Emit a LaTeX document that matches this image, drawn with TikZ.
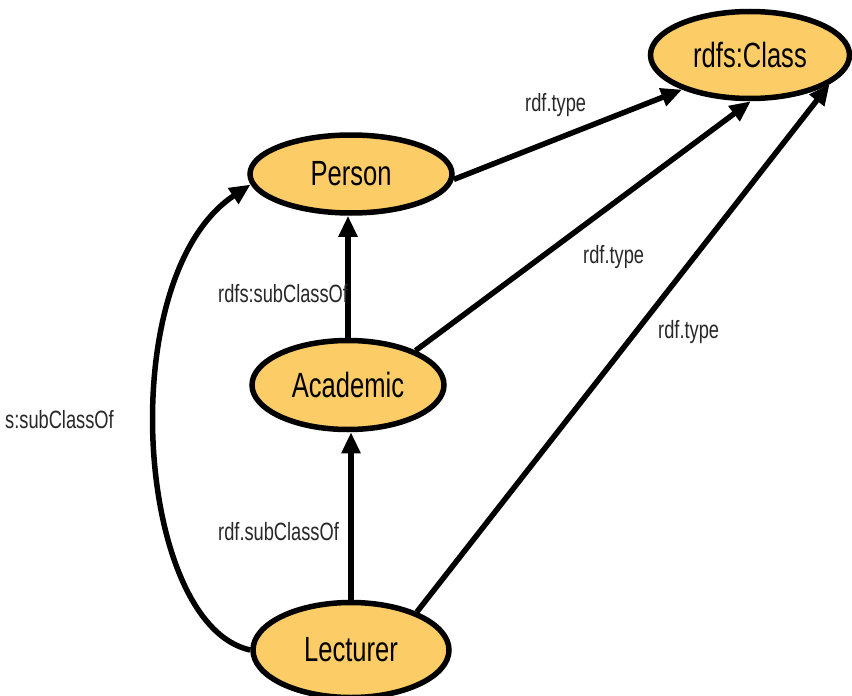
\documentclass[tikz,border=0pt]{standalone}
\usepackage{fontspec}
\setmainfont{Liberation Sans}
\newfontfamily\narrowfont{Liberation Sans}[FakeStretch=0.73]
\usetikzlibrary{shapes.geometric,arrows.meta}
\definecolor{nodefill}{RGB}{252,204,102}
\definecolor{labelgray}{RGB}{40,40,40}
\tikzset{
  cls/.style={ellipse, draw=black, line width=5.5pt, fill=nodefill, inner sep=0pt,
    font=\narrowfont\fontsize{35}{40}\selectfont},
  edge/.style={line width=5.5pt, -{Triangle[length=21pt,width=18pt]}},
  lbl/.style={inner sep=0pt, anchor=base west, text=labelgray,
    font=\narrowfont\fontsize{25}{30}\selectfont}
}
\begin{document}
\begin{tikzpicture}[x=1pt,y=-1pt]
\useasboundingbox[fill=white] (0,0) rectangle (852,696);
\node[cls, minimum width=199pt, minimum height=87pt] (rc) at (750,55) {rdfs:Class};
\node[cls, minimum width=202pt, minimum height=78pt] (per) at (351,174) {Person};
\node[cls, minimum width=192pt, minimum height=89pt] (aca) at (348,385) {Academic};
\node[cls, minimum width=196pt, minimum height=95pt] (lec) at (351,650) {Lecturer};

\draw[edge] (per.-3) -- (rc.207);
\draw[edge] (aca.27) -- (rc.271);
\draw[edge] (lec.30) -- (rc.340);
\draw[edge] (aca.north) -- (aca.north |- per.south);
\draw[edge] (lec.north) -- (lec.north |- aca.south);
\draw[edge] (lec.west) .. controls +(-115,-25) and +(-139,92) .. (per.186);

\node[lbl] (t1) at (525,111) {rdf.type};
\node[lbl] (t2) at (583,263) {rdf.type};
\node[lbl] (t3) at (658,338) {rdf.type};
\node[lbl] (s1) at (218,302) {rdfs:subClassOf};
\node[lbl] (s2) at (218,540) {rdf.subClassOf};
\node[lbl] (s3) at (5,428) {s:subClassOf};
\end{tikzpicture}
\end{document}
